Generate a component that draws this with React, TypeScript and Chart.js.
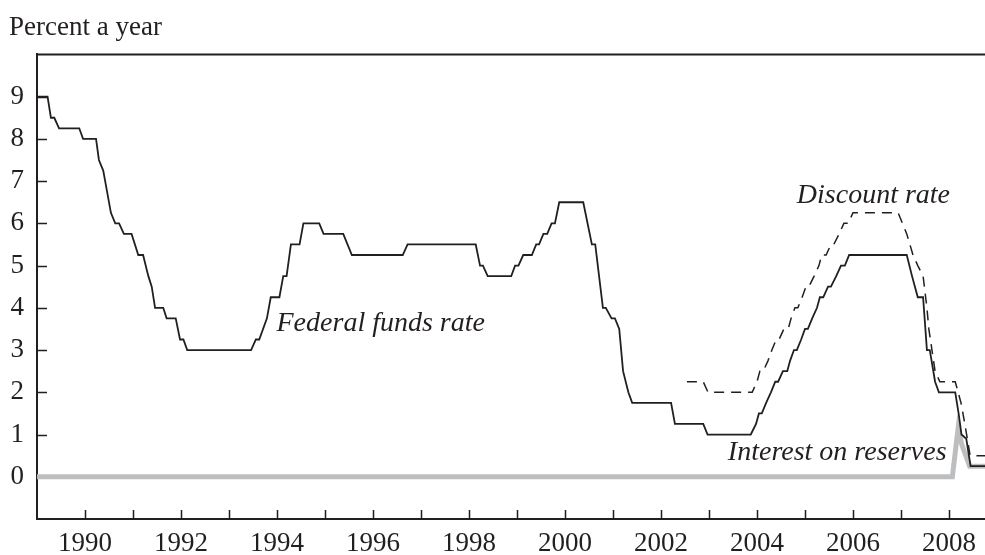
import React, { useEffect, useRef } from "react";
import { Chart, registerables } from "chart.js";

Chart.register(...registerables);

// ---------- data ----------
const fedFundsYears = [
  1989.0, 1989.22, 1989.29, 1989.36, 1989.46, 1989.88, 1989.96, 1990.23, 1990.29, 1990.38,
  1990.42, 1990.54, 1990.63, 1990.71, 1990.81, 1990.97, 1991.11, 1991.21, 1991.32, 1991.39,
  1991.46, 1991.63, 1991.7, 1991.89, 1991.98, 1992.05, 1992.13, 1993.46, 1993.56, 1993.63,
  1993.79, 1993.87, 1994.05, 1994.13, 1994.2, 1994.29, 1994.47, 1994.55, 1994.88, 1994.97,
  1995.38, 1995.56, 1996.62, 1996.72, 1998.14, 1998.23, 1998.29, 1998.39, 1998.88, 1998.96,
  1999.03, 1999.13, 1999.31, 1999.4, 1999.46, 1999.55, 1999.63, 1999.72, 1999.79, 1999.88,
  2000.38, 2000.56, 2000.63, 2000.79, 2000.85, 2000.97, 2001.04, 2001.13, 2001.21, 2001.32,
  2001.4, 2002.21, 2002.29, 2002.88, 2002.97, 2003.87, 2003.98, 2004.04, 2004.1, 2004.19,
  2004.29, 2004.38, 2004.44, 2004.54, 2004.63, 2004.69, 2004.77, 2004.83, 2004.92, 2005.0,
  2005.06, 2005.15, 2005.25, 2005.31, 2005.38, 2005.48, 2005.54, 2005.65, 2005.75, 2005.83,
  2005.92, 2007.12, 2007.23, 2007.29, 2007.35, 2007.46, 2007.54, 2007.6, 2007.71, 2007.79,
  2008.13, 2008.2, 2008.26, 2008.36, 2008.45, 2008.75,
];
const fedFundsRates = [
  9.0, 9.0, 8.5, 8.5, 8.25, 8.25, 8.0, 8.0, 7.5, 7.25,
  7.0, 6.25, 6.0, 6.0, 5.75, 5.75, 5.25, 5.25, 4.75, 4.5,
  4.0, 4.0, 3.75, 3.75, 3.25, 3.25, 3.0, 3.0, 3.25, 3.25,
  3.75, 4.25, 4.25, 4.75, 4.75, 5.5, 5.5, 6.0, 6.0, 5.75,
  5.75, 5.25, 5.25, 5.5, 5.5, 5.0, 5.0, 4.75, 4.75, 5.0,
  5.0, 5.25, 5.25, 5.5, 5.5, 5.75, 5.75, 6.0, 6.0, 6.5,
  6.5, 5.5, 5.5, 4.0, 4.0, 3.75, 3.75, 3.5, 2.5, 2.0,
  1.75, 1.75, 1.25, 1.25, 1.0, 1.0, 1.25, 1.5, 1.5, 1.75,
  2.0, 2.25, 2.25, 2.5, 2.5, 2.75, 3.0, 3.0, 3.25, 3.5,
  3.5, 3.75, 4.0, 4.25, 4.25, 4.5, 4.5, 4.75, 5.0, 5.0,
  5.25, 5.25, 4.75, 4.5, 4.25, 4.25, 3.0, 3.0, 2.25, 2.0,
  2.0, 1.5, 1.0, 0.9, 0.25, 0.25,
];

const discountYears = [
  2002.54, 2002.88, 2002.98, 2003.89, 2003.9, 2004.0, 2004.06, 2004.13, 2004.23, 2004.31,
  2004.4, 2004.46, 2004.56, 2004.65, 2004.71, 2004.79, 2004.85, 2004.94, 2005.02, 2005.08,
  2005.19, 2005.29, 2005.35, 2005.44, 2005.54, 2005.6, 2005.71, 2005.81, 2005.9, 2006.0,
  2006.94, 2007.12, 2007.25, 2007.35, 2007.46, 2007.54, 2007.58, 2007.71, 2007.81, 2008.13,
  2008.25, 2008.33, 2008.44, 2008.75,
];
const discountRates = [
  2.25, 2.25, 2.0, 2.0, 2.0, 2.25, 2.5, 2.5, 2.75, 3.0,
  3.25, 3.25, 3.5, 3.5, 3.75, 4.0, 4.0, 4.25, 4.5, 4.5,
  4.75, 5.0, 5.25, 5.25, 5.5, 5.5, 5.75, 6.0, 6.0, 6.25,
  6.25, 5.75, 5.25, 5.0, 4.75, 4.0, 3.5, 2.5, 2.25, 2.25,
  1.75, 1.25, 0.5, 0.5,
];

const reserveYears = [1989.0, 2008.07, 2008.19, 2008.27, 2008.43, 2008.75];
const reserveRates = [0, 0, 1.15, 0.75, 0.25, 0.25];

const yearTicks = [
  1990, 1991, 1992, 1993, 1994, 1995, 1996, 1997, 1998, 1999,
  2000, 2001, 2002, 2003, 2004, 2005, 2006, 2007, 2008,
];
const labelledYears = [1990, 1992, 1994, 1996, 1998, 2000, 2002, 2004, 2006, 2008];
const valueTicks = [0, 1, 2, 3, 4, 5, 6, 7, 8, 9];

const seriesNames = ["Federal funds rate", "Discount rate", "Interest on reserves"];
const yAxisTitle = "Percent a year";

// label anchors (data coordinates)
const labelAnchors = [
  { text: seriesNames[0], x: 1993.99, y: 3.45, align: "left" },
  { text: seriesNames[1], x: 2004.83, y: 6.49, align: "left" },
  { text: seriesNames[2], x: 2007.95, y: 0.4, align: "right" },
];

// ---------- style ----------
const INK = "#231f20";
const GRAY = "#bcbec0";
const SERIF = "'Liberation Serif', 'Times New Roman', serif";

const toPoints = (xs: number[], ys: number[]) => xs.map((x, i) => ({ x, y: ys[i] }));

const framePlugin = {
  id: "frameAndLabels",
  beforeDatasetsDraw(chart: any) {
    const { ctx, chartArea, scales } = chart;
    const xs = scales.x;
    const ys = scales.y;
    ctx.save();
    ctx.strokeStyle = INK;
    ctx.lineWidth = 1.5;
    ctx.beginPath();
    for (const t of yearTicks) {
      const px = Math.round(xs.getPixelForValue(t)) + 0.5;
      ctx.moveTo(px, chartArea.bottom);
      ctx.lineTo(px, chartArea.bottom - 9);
    }
    for (const v of valueTicks) {
      const py = Math.round(ys.getPixelForValue(v)) + 0.5;
      ctx.moveTo(chartArea.left, py);
      ctx.lineTo(chartArea.left + 10, py);
    }
    ctx.stroke();
    ctx.lineWidth = 2;
    ctx.beginPath();
    ctx.moveTo(chartArea.left, chartArea.top);
    ctx.lineTo(chartArea.right, chartArea.top);
    ctx.stroke();
    ctx.restore();
  },
  afterDraw(chart: any) {
    const { ctx, scales } = chart;
    ctx.save();
    ctx.fillStyle = INK;
    ctx.font = `italic 28px ${SERIF}`;
    ctx.textBaseline = "alphabetic";
    for (const a of labelAnchors) {
      ctx.textAlign = a.align;
      ctx.fillText(a.text, scales.x.getPixelForValue(a.x), scales.y.getPixelForValue(a.y));
    }
    ctx.restore();
  },
};

export default function App() {
  const canvasRef = useRef<HTMLCanvasElement | null>(null);

  useEffect(() => {
    if (!canvasRef.current) return;
    const chart = new Chart(canvasRef.current, {
      type: "line",
      data: {
        datasets: [
          {
            label: seriesNames[0],
            data: toPoints(fedFundsYears, fedFundsRates),
            borderColor: INK,
            borderWidth: 1.8,
            pointRadius: 0,
            tension: 0,
            fill: false,
          },
          {
            label: seriesNames[1],
            data: toPoints(discountYears, discountRates),
            borderColor: INK,
            borderWidth: 1.5,
            borderDash: [10, 7],
            pointRadius: 0,
            tension: 0,
            fill: false,
          },
          {
            label: seriesNames[2],
            data: toPoints(reserveYears, reserveRates),
            borderColor: GRAY,
            borderWidth: 5,
            pointRadius: 0,
            tension: 0,
            fill: false,
          },
        ],
      },
      options: {
        responsive: false,
        animation: false,
        devicePixelRatio: 1,
        layout: { padding: { left: 9, right: 0, top: 0, bottom: 0 } },
        plugins: {
          legend: { display: false },
          tooltip: { enabled: false },
          title: {
            display: true,
            text: yAxisTitle,
            align: "start",
            color: INK,
            font: { family: SERIF, size: 27, weight: "normal" },
            padding: { top: 12, bottom: 10 },
          },
        },
        scales: {
          x: {
            type: "linear",
            min: 1989,
            max: 2008.75,
            grid: { display: false, drawTicks: false },
            border: { display: true, color: INK, width: 2 },
            afterBuildTicks: (scale: any) => {
              scale.ticks = yearTicks.map((v) => ({ value: v }));
            },
            afterFit: (scale: any) => {
              scale.height = 36;
            },
            ticks: {
              autoSkip: false,
              maxRotation: 0,
              padding: 9,
              color: INK,
              font: { family: SERIF, size: 27 },
              callback: (v: any) => (labelledYears.includes(Number(v)) ? String(v) : ""),
            },
          },
          y: {
            type: "linear",
            min: -1,
            max: 10,
            grid: { display: false, drawTicks: false },
            border: { display: true, color: INK, width: 2 },
            afterBuildTicks: (scale: any) => {
              scale.ticks = valueTicks.map((v) => ({ value: v }));
            },
            afterFit: (scale: any) => {
              scale.width = 28;
            },
            ticks: {
              padding: 13,
              color: INK,
              font: { family: SERIF, size: 27 },
              callback: (v: any) => String(v),
            },
          },
        },
      },
      plugins: [framePlugin],
    } as any);
    return () => chart.destroy();
  }, []);

  return (
    <div style={{ position: "absolute", left: 0, top: 0, width: 985, height: 555, background: "#fff" }}>
      <canvas ref={canvasRef} width={985} height={555} />
    </div>
  );
}
